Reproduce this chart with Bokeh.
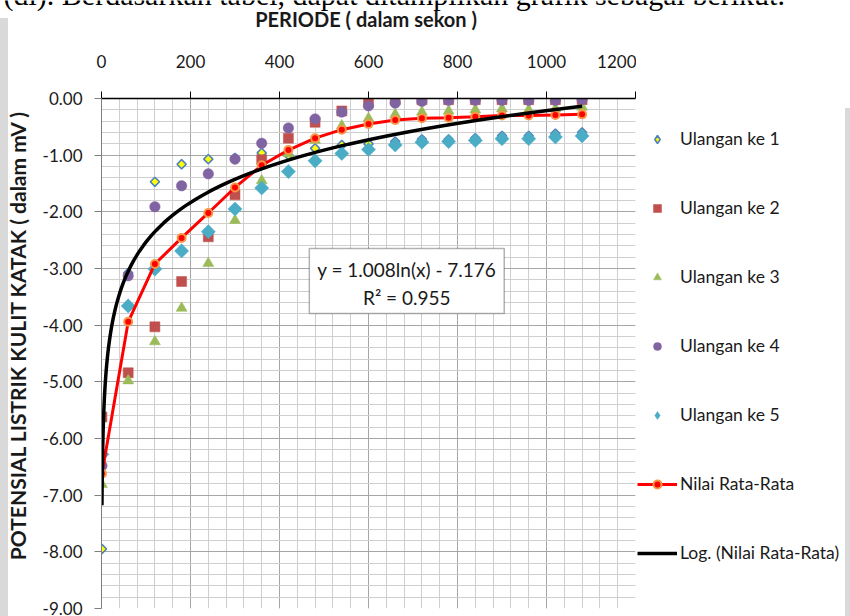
import numpy as np
from bokeh.plotting import figure
from bokeh.models import (SingleIntervalTicker, NumeralTickFormatter, Legend, LegendItem,
                          Label, BoxAnnotation, Range1d)
from bokeh.layouts import column, row
from bokeh.embed import file_html
from bokeh.resources import INLINE

# Waktu pengamatan (sekon)
periode = [1, 60, 120, 180, 240, 300, 360, 420, 480, 540, 600, 660, 720, 780,
           840, 900, 960, 1020, 1080]

# Potensial listrik kulit katak (mV) tiap ulangan
ulangan_1 = [-7.95, -3.08, -1.47, -1.16, -1.07, -1.05, -0.96, -1.00, -0.88, -0.82,
             -0.80, -0.76, -0.72, -0.72, -0.70, -0.66, -0.66, -0.62, -0.60]
ulangan_2 = [-5.62, -4.84, -4.03, -3.23, -2.44, -1.70, -1.08, -0.70, -0.42, -0.22,
             -0.07, -0.02, -0.02, -0.02, -0.02, -0.02, -0.02, -0.02, -0.02]
ulangan_3 = [-6.81, -4.98, -4.29, -3.70, -2.91, -2.15, -1.45, -0.97, -0.74, -0.48,
             -0.35, -0.28, -0.24, -0.22, -0.20, -0.18, -0.20, -0.18, -0.15]
ulangan_4 = [-6.48, -3.13, -1.91, -1.54, -1.33, -1.07, -0.79, -0.52, -0.36, -0.24,
             -0.13, -0.08, -0.05, -0.03, -0.03, -0.03, -0.03, -0.03, -0.02]
ulangan_5 = [-6.28, -3.66, -3.01, -2.69, -2.35, -1.95, -1.58, -1.29, -1.10, -0.97,
             -0.90, -0.82, -0.77, -0.76, -0.74, -0.71, -0.71, -0.68, -0.66]
rata_rata = [-6.62, -3.94, -2.92, -2.46, -2.02, -1.57, -1.18, -0.91, -0.70, -0.55,
             -0.45, -0.38, -0.35, -0.34, -0.32, -0.30, -0.30, -0.29, -0.28]

# Trendline logaritmik: y = a ln(x) + b
log_a = 1.008
log_b = -7.176
r_squared = 0.955

FONT = "Lato"
TEXT = "#1a1a1a"
TOP_H = 40          # pita judul di atas
ROW_H = 576         # baris grafik
ROW_TOP = 58        # batas atas bersama semua figur di baris grafik
ROW_BOTTOM = 8
FRAME_H = ROW_H - ROW_TOP - ROW_BOTTOM

# Gaya penanda tiap seri pada plot
styles = [
    dict(marker="square", angle=np.pi / 4, size=6.5, fill_color="#ffff00",
         line_color="#4f81bd", line_width=1.6),
    dict(marker="square", size=10, fill_color="#c0504d", line_color="#c0504d", line_width=0.5),
    dict(marker="triangle", size=11, fill_color="#9bbb59", line_color="#9bbb59", line_width=0.5),
    dict(marker="circle", size=10.5, fill_color="#8064a2", line_color="#8064a2", line_width=0.5),
    dict(marker="square", angle=np.pi / 4, size=10, fill_color="#4bacc6",
         line_color="#4bacc6", line_width=0.5),
]
# Legenda tidak memutar simbol, jadi belah ketupat memakai penanda "diamond"
legend_styles = [
    dict(marker="diamond", size=12.5, fill_color="#ffff00", line_color="#4f81bd", line_width=1.6),
    styles[1], styles[2], styles[3],
    dict(marker="diamond", size=19, fill_color="#4bacc6", line_color="#4bacc6", line_width=0.5),
]
avg_line_style = dict(line_color="#ff0000", line_width=3)
avg_dot_style = dict(marker="circle", size=8, fill_color="#ff0000",
                     line_color="#f79646", line_width=2)
trend_style = dict(line_color="black", line_width=3.5)


def blank_figure(w, h, xr, yr, **kw):
    f = figure(width=w, height=h, x_range=Range1d(*xr), y_range=Range1d(*yr),
               output_backend="svg", toolbar_location=None, **kw)
    f.axis.visible = False
    f.grid.visible = False
    f.outline_line_color = None
    f.background_fill_alpha = 0
    f.border_fill_alpha = 0
    return f


# ---- Plot utama ----
p = figure(width=606, height=ROW_H, x_range=Range1d(0, 1200), y_range=Range1d(-9, 0),
           x_axis_location="above", output_backend="svg", toolbar_location=None,
           min_border_left=71, min_border_right=1, min_border_top=ROW_TOP,
           min_border_bottom=ROW_BOTTOM)
p.title.text = ""
p.border_fill_alpha = 0
p.background_fill_color = "white"
p.outline_line_color = None

xt = SingleIntervalTicker(interval=200, num_minor_ticks=5)
yt = SingleIntervalTicker(interval=1, num_minor_ticks=5)
p.xaxis.ticker = xt
p.yaxis.ticker = yt
p.xgrid.ticker = xt
p.ygrid.ticker = yt
for g in (p.xgrid, p.ygrid):
    g.grid_line_color = "#a6a6a6"
    g.grid_line_width = 1
    g.minor_grid_line_color = "#cfcfcf"
    g.minor_grid_line_width = 1

p.yaxis.formatter = NumeralTickFormatter(format="0.00")

p.xaxis.axis_line_color = "black"
p.xaxis.axis_line_width = 1.5
p.xaxis.major_tick_line_color = "black"
p.xaxis.major_tick_out = 7
p.xaxis.major_tick_in = 0
p.xaxis.minor_tick_out = 0
p.xaxis.minor_tick_in = 0
p.xaxis.major_label_standoff = 24
p.xaxis.major_label_text_font = FONT
p.xaxis.major_label_text_font_size = "17px"
p.xaxis.major_label_text_color = TEXT

p.yaxis.axis_line_color = "#7f7f7f"
p.yaxis.major_tick_line_color = "#7f7f7f"
p.yaxis.major_tick_out = 7
p.yaxis.major_tick_in = 0
p.yaxis.minor_tick_out = 0
p.yaxis.minor_tick_in = 0
p.yaxis.major_label_standoff = 12
p.yaxis.major_label_text_font = FONT
p.yaxis.major_label_text_font_size = "17px"
p.yaxis.major_label_text_color = TEXT

series = [ulangan_1, ulangan_2, ulangan_3, ulangan_4, ulangan_5]
for ys, st in zip(series, styles):
    p.scatter(periode, ys, **st)
p.line(periode, rata_rata, **avg_line_style)
p.scatter(periode, rata_rata, **avg_dot_style)

# Kurva trendline dari persamaan regresi
x_trend = np.geomspace(periode[0], periode[-1], 400)
y_trend = log_a * np.log(x_trend) + log_b
p.line(x_trend, y_trend, **trend_style)

# Kotak persamaan
p.add_layout(BoxAnnotation(left=467, right=905, top=-2.645, bottom=-3.793,
                           fill_color="white", fill_alpha=1,
                           line_color="black", line_width=1.5))
p.add_layout(Label(x=686, y=-3.01, text=f"y = {log_a:.3f}ln(x) - {abs(log_b):.3f}",
                   text_align="center", text_baseline="middle", text_font=FONT,
                   text_font_size="19px", text_color=TEXT))
p.add_layout(Label(x=686, y=-3.51, text=f"R² = {r_squared:.3f}",
                   text_align="center", text_baseline="middle", text_font=FONT,
                   text_font_size="19px", text_color=TEXT))

# ---- Judul sumbu Y (kolom kiri) ----
yfig = blank_figure(30, ROW_H, (0, 30), (0, FRAME_H), min_border=0,
                    min_border_top=ROW_TOP, min_border_bottom=ROW_BOTTOM)
yfig.add_layout(Label(x=17, y=276, angle=np.pi / 2,
                      text="POTENSIAL LISTRIK KULIT KATAK  ( dalam mV )",
                      text_align="center", text_baseline="middle", text_font=FONT,
                      text_font_style="bold", text_font_size="21px", text_color=TEXT))

# ---- Legenda (kolom kanan) ----
lfig = blank_figure(214, ROW_H, (0, 1), (0, 1), min_border=0,
                    min_border_top=ROW_TOP, min_border_bottom=ROW_BOTTOM)
off = [-5, -4]  # titik di luar area agar hanya simbol legenda yang tampak
leg_r = [lfig.scatter(off, off, **st) for st in legend_styles]
leg_avg_line = lfig.line(off, off, **avg_line_style)
leg_avg_dot = lfig.scatter(off, off, **avg_dot_style)
leg_trend = lfig.line(off, off, **trend_style)
names = ["Ulangan ke 1", "Ulangan ke 2", "Ulangan ke 3", "Ulangan ke 4", "Ulangan ke 5"]
items = [LegendItem(label=n, renderers=[r]) for n, r in zip(names, leg_r)]
items.append(LegendItem(label="Nilai Rata-Rata", renderers=[leg_avg_line, leg_avg_dot]))
items.append(LegendItem(label="Log. (Nilai Rata-Rata)", renderers=[leg_trend]))
legend = Legend(items=items, location=(1, 45), orientation="vertical",
                glyph_width=40, glyph_height=20, label_height=20, label_standoff=3,
                spacing=48, padding=0, margin=0, border_line_color=None,
                background_fill_alpha=0, label_text_font=FONT,
                label_text_font_size="17.5px", label_text_color=TEXT)
lfig.add_layout(legend)

# ---- Pita atas: kalimat pengantar dan judul sumbu X ----
tfig = blank_figure(850, TOP_H, (0, 850), (0, TOP_H), min_border=0)
tfig.add_layout(Label(x=3, y=46,
                      text="(di).  Berdasarkan tabel, dapat ditampilkan grafik sebagai berikut.",
                      text_align="left", text_baseline="alphabetic",
                      text_font="Liberation Serif", text_font_size="30px",
                      text_color="black"))
tfig.add_layout(Label(x=368, y=22, text="PERIODE  ( dalam sekon )",
                      text_align="center", text_baseline="middle", text_font=FONT,
                      text_font_style="bold", text_font_size="20px", text_color=TEXT))

page = column(tfig, row(yfig, p, lfig), styles={
    "background": "linear-gradient(#d9d9d9,#d9d9d9) left 0px top 18px / 8px 100% no-repeat, "
                  "linear-gradient(#d9d9d9,#d9d9d9) right 0px top 108px / 5px 100% no-repeat, "
                  "white"})

open("out.html", "w").write(file_html(page, INLINE))
